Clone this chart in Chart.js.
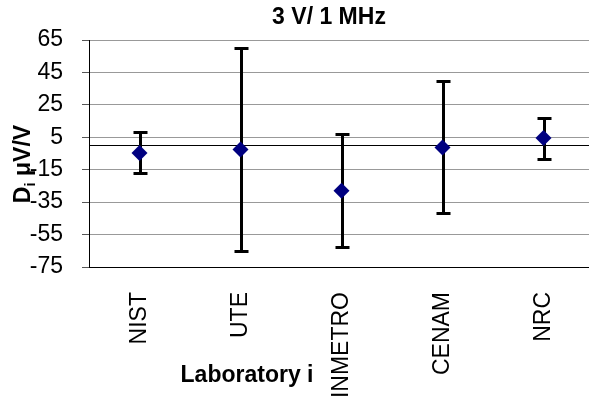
<!DOCTYPE html>
<html>
<head>
<meta charset="utf-8">
<script src="https://cdn.jsdelivr.net/npm/chart.js@4.4.0/dist/chart.umd.min.js"></script>
<style>
  html, body { margin: 0; padding: 0; background: #fff; overflow: hidden; }
  #wrap { width: 602px; height: 400px; position: relative; }
</style>
</head>
<body>
<div id="wrap"><canvas id="chart"></canvas></div>
<script>
// data
const labs = ['NIST', 'UTE', 'INMETRO', 'CENAM', 'NRC'];
const di = [-4.7, -2.6, -27.9, -1.3, 4.5];
const barHi = [8, 60, 7, 39.5, 16.6];
const barLo = [-17.3, -65, -62.7, -42, -8.1];
const yTicks = [-75, -55, -35, -15, 5, 25, 45, 65];

const FONT = "'Liberation Sans', Arial, sans-serif";

const extras = {
  id: 'extras',
  beforeDatasetsDraw(chart) {
    const { ctx, chartArea, scales: { x, y } } = chart;
    ctx.save();
    // reference line at 0
    ctx.strokeStyle = '#000';
    ctx.lineWidth = 1;
    const y0 = Math.round(y.getPixelForValue(0)) + 0.5;
    ctx.beginPath();
    ctx.moveTo(chartArea.left, y0);
    ctx.lineTo(chartArea.right, y0);
    ctx.stroke();
    // error bars
    ctx.lineWidth = 3;
    ctx.strokeStyle = '#000';
    labs.forEach((l, i) => {
      const px = Math.round(x.getPixelForValue(i)) + 0.5;
      const yt = Math.round(y.getPixelForValue(barHi[i])) + 0.5;
      const yb = Math.round(y.getPixelForValue(barLo[i])) + 0.5;
      ctx.beginPath();
      ctx.moveTo(px, yt); ctx.lineTo(px, yb);
      ctx.moveTo(px - 7, yt); ctx.lineTo(px + 7, yt);
      ctx.moveTo(px - 7, yb); ctx.lineTo(px + 7, yb);
      ctx.stroke();
    });
    ctx.restore();
  },
  afterDraw(chart) {
    const ctx = chart.ctx;
    ctx.save();
    ctx.fillStyle = '#000';
    ctx.textBaseline = 'middle';
    // title
    ctx.font = 'bold 23px ' + FONT;
    ctx.textAlign = 'center';
    ctx.fillText('3 V/ 1 MHz', 329, 18);
    // x title
    ctx.fillText('Laboratory i', 247, 376);
    // y title with subscript
    ctx.translate(24, 164);
    ctx.rotate(-Math.PI / 2);
    ctx.textAlign = 'left';
    const big = 'bold 23px ' + FONT, small = 'bold 15px ' + FONT;
    ctx.font = big;
    const w1 = ctx.measureText('D').width;
    const w3 = ctx.measureText(' \u03bcV/V').width;
    ctx.font = small;
    const w2 = ctx.measureText('i').width;
    let sx = -(w1 + w2 + w3) / 2;
    ctx.font = big;
    ctx.fillText('D', sx, 0);
    sx += w1;
    ctx.font = small;
    ctx.fillText('i', sx, 7);
    sx += w2;
    ctx.font = big;
    ctx.fillText(' \u03bcV/V', sx, 0);
    ctx.restore();
  }
};

new Chart(document.getElementById('chart'), {
  type: 'line',
  data: {
    labels: labs,
    datasets: [{
      data: di,
      showLine: false,
      pointStyle: 'rectRot',
      pointRadius: 8,
      pointHoverRadius: 8,
      backgroundColor: '#000080',
      borderColor: '#000080',
      borderWidth: 0
    }]
  },
  options: {
    responsive: true,
    maintainAspectRatio: false,
    animation: false,
    layout: { padding: { top: 40, left: 0, right: 0, bottom: 0 } },
    plugins: { legend: { display: false }, tooltip: { enabled: false } },
    scales: {
      x: {
        offset: true,
        grid: { display: false, drawTicks: false },
        border: { display: true, color: '#000', width: 1 },
        ticks: {
          autoSkip: false, minRotation: 90, maxRotation: 90, padding: 25,
          color: '#000', font: { family: FONT, size: 23 }
        },
        afterFit(s) { s.height = 133; }
      },
      y: {
        min: yTicks[0],
        max: yTicks[yTicks.length - 1],
        ticks: {
          stepSize: 20, padding: 19, color: '#000',
          font: { family: FONT, size: 23 }
        },
        grid: { color: '#999', tickColor: '#555', tickLength: 7, lineWidth: 1 },
        border: { display: true, color: '#000', width: 1 },
        afterFit(s) { s.width = 89; }
      }
    }
  },
  plugins: [extras]
});
</script>
</body>
</html>
